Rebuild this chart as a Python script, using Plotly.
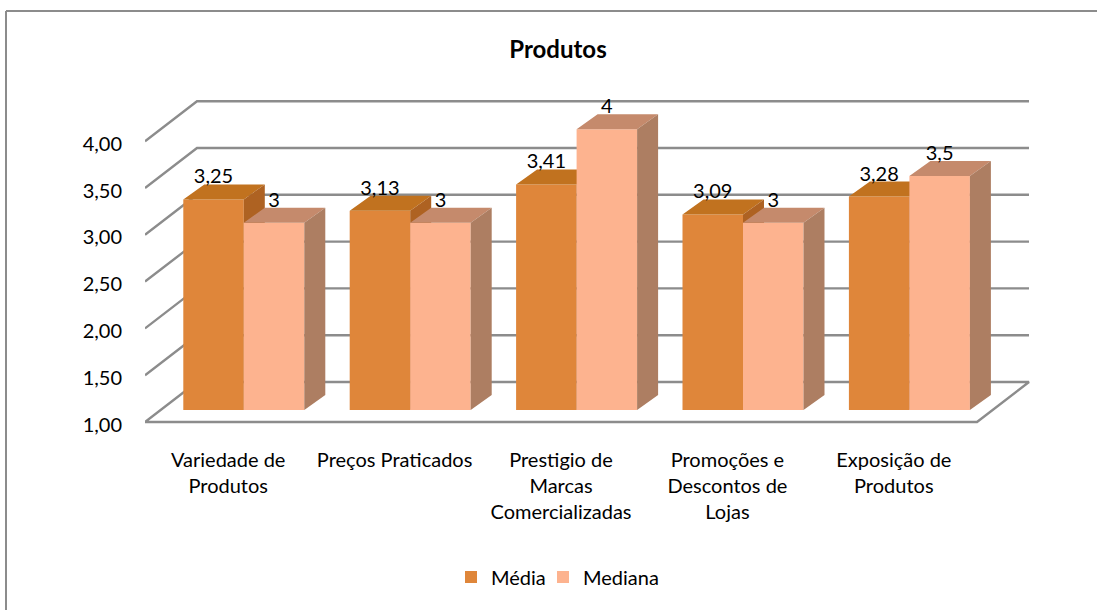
import plotly.graph_objects as go

# ---- data ----
categories = [
    "Variedade de<br>Produtos",
    "Preços Praticados",
    "Prestigio de<br>Marcas<br>Comercializadas",
    "Promoções e<br>Descontos de<br>Lojas",
    "Exposição de<br>Produtos",
]
media = [3.25, 3.13, 3.41, 3.09, 3.28]
mediana = [3, 3, 4, 3, 3.5]
y_ticks = [1, 1.5, 2, 2.5, 3, 3.5, 4]
title_text = "Produtos"

# ---- geometry (page pixels) ----
W, H = 1097, 610
L, R, T, B = 145, 1045, 90, 432      # outer plot box
FLOOR = 422                          # page y of the value 1 on the front edge
UX, UY = 166.4, 93.6                 # px per category / px per value unit
WALL_DX, WALL_DY = 52 / UX, 40 / UY  # depth of the floor
SHIFT_X, SHIFT_Y = 15.6, 12          # bars stand inside the floor
BAR_W = 0.3636
DEPTH_DX, DEPTH_DY = 21 / UX, 15 / UY
TICK_NUDGE = 2.5 / UY                # tick labels sit slightly lower than their line
FONT = "Lato"
FS = 20
TXT = "#000000"
LINE = "#8c8c8c"
C_MEDIA = ("#DF863A", "#C1721F", "#AE6222")
C_MEDIANA = ("#FDB38F", "#C58A6C", "#AD7E62")


def px(x):
    return (x - L) / (R - L)


def py(y):
    return (B - y) / (B - T)


n = len(categories)
fig = go.Figure()

# floor, walls and gridlines on the base axes
x_front_end = float(n)
gx, gy = [], []
for v in y_ticks:
    if v == y_ticks[0]:
        gx += [0, WALL_DX, x_front_end + WALL_DX, x_front_end, 0, None]
        gy += [v, v + WALL_DY, v + WALL_DY, v, v, None]
    else:
        gx += [0, WALL_DX, x_front_end + WALL_DX, None]
        gy += [v, v + WALL_DY, v + WALL_DY, None]
fig.add_trace(go.Scatter(x=gx, y=gy, mode="lines", line=dict(color=LINE, width=2.4),
                         showlegend=False, hoverinfo="skip", xaxis="x", yaxis="y",
                         cliponaxis=False))
# carrier for the value axis labels
fig.add_trace(go.Scatter(x=[0] * len(y_ticks), y=y_ticks, mode="markers", marker=dict(opacity=0),
                         showlegend=False, hoverinfo="skip", xaxis="x", yaxis="y4"))


def add_series(name, values, offset, colors, xa, ya, legend):
    cx = [i + 0.5 + offset for i in range(n)]
    hw = BAR_W / 2
    fig.add_trace(go.Bar(x=cx, y=values, width=BAR_W, name=name, marker=dict(color=colors[0], line=dict(width=0)),
                         xaxis=xa, yaxis=ya, legend=legend, hovertemplate=name + ": %{y}<extra></extra>"))
    tx, ty, sx, sy = [], [], [], []
    for c, v in zip(cx, values):
        l, r = c - hw, c + hw
        tx += [l, l + DEPTH_DX, r + DEPTH_DX, r, l, None]
        ty += [v, v + DEPTH_DY, v + DEPTH_DY, v, v, None]
        sx += [r, r + DEPTH_DX, r + DEPTH_DX, r, r, None]
        sy += [v, v + DEPTH_DY, 1 + DEPTH_DY, 1, v, None]
    for qx, qy, col in ((tx, ty, colors[1]), (sx, sy, colors[2])):
        fig.add_trace(go.Scatter(x=qx, y=qy, mode="lines", fill="toself", fillcolor=col,
                                 line=dict(width=0, color=col), showlegend=False, hoverinfo="skip",
                                 xaxis=xa, yaxis=ya, cliponaxis=False))


add_series("Média", media, -BAR_W / 2, C_MEDIA, "x2", "y2", "legend")
add_series("Mediana", mediana, BAR_W / 2, C_MEDIANA, "x3", "y3", "legend2")

# value labels
LABEL_UP = 21 / UY
for values, offset in ((media, -BAR_W / 2), (mediana, BAR_W / 2)):
    fig.add_trace(go.Scatter(
        x=[i + 0.5 + offset for i in range(n)],
        y=[v + LABEL_UP for v in values],
        text=[f"{v:g}".replace(".", ",") for v in values],
        mode="text", textposition="middle center",
        textfont=dict(family=FONT, size=FS, color=TXT),
        showlegend=False, hoverinfo="skip", xaxis="x3", yaxis="y3", cliponaxis=False))

xr = [0, (R - L) / UX]
yr = [1 - (B - FLOOR) / UY, 1 + (FLOOR - T) / UY]
hidden = dict(visible=False, fixedrange=True)
bar_left, bar_bottom = L + SHIFT_X, FLOOR - SHIFT_Y
legend_style = dict(orientation="h", xanchor="left", y=py(577), yanchor="middle",
                    font=dict(family=FONT, size=FS, color=TXT), bgcolor="rgba(0,0,0,0)",
                    itemclick=False, itemdoubleclick=False)

fig.update_layout(
    width=W, height=H, autosize=False,
    margin=dict(l=L, r=W - R, t=T, b=H - B, pad=0),
    paper_bgcolor="white", plot_bgcolor="rgba(0,0,0,0)",
    separators=",.",
    font=dict(family=FONT, size=FS, color=TXT),
    title=dict(text="<b>" + title_text + "</b>", x=558 / W, y=1 - 50 / H, xref="container",
               yref="container", xanchor="center", yanchor="middle",
               font=dict(family=FONT, size=24, color=TXT)),
    barmode="overlay",
    showlegend=True,
    legend=dict(x=px(451), **legend_style),
    legend2=dict(x=px(543), **legend_style),
    xaxis=dict(range=xr, domain=[0, 1], tickmode="array", tickvals=[i + 0.5 for i in range(n)],
               ticktext=categories, showgrid=False, zeroline=False, showline=False,
               ticks="", ticklabelstandoff=14, tickangle=0, fixedrange=True,
               tickfont=dict(family=FONT, size=FS, color=TXT)),
    yaxis=dict(range=yr, domain=[0, 1], showticklabels=False, showgrid=False, zeroline=False,
               showline=False, ticks="", fixedrange=True),
    yaxis4=dict(range=[yr[0] + TICK_NUDGE, yr[1] + TICK_NUDGE], overlaying="y", anchor="x", side="left",
                tickmode="array", tickvals=y_ticks,
                tickformat=".2f", showgrid=False, zeroline=False, showline=False, ticks="",
                ticklabelstandoff=22, fixedrange=True,
                tickfont=dict(family=FONT, size=FS, color=TXT)),
    xaxis2=dict(range=[0, (R - bar_left) / UX], domain=[px(bar_left), 1], anchor="y2", **hidden),
    yaxis2=dict(range=[1, 1 + (bar_bottom - T) / UY], domain=[py(bar_bottom), 1], anchor="x2", **hidden),
    xaxis3=dict(range=[0, (R - bar_left) / UX], domain=[px(bar_left), 1], anchor="y3", **hidden),
    yaxis3=dict(range=[1, 1 + (bar_bottom - T) / UY], domain=[py(bar_bottom), 1], anchor="x3", **hidden),
    shapes=[
        dict(type="line", xref="paper", yref="paper", x0=px(6), x1=px(6), y0=py(11), y1=py(H), line=dict(color=LINE, width=2)),
        dict(type="line", xref="paper", yref="paper", x0=px(6), x1=px(W), y0=py(11), y1=py(11), line=dict(color=LINE, width=2)),
    ],
)

fig.write_html("out.html", config=dict(displayModeBar=False),
               post_script="document.body.style.margin='0';document.body.style.overflow='hidden';")
